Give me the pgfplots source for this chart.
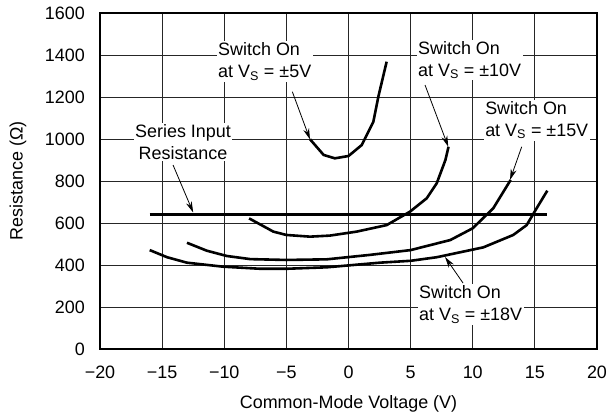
\documentclass[border=0pt]{standalone}
\usepackage{pgfplots}
\pgfplotsset{compat=1.18}
\usepackage{fontspec}
\setmainfont{Liberation Sans}
\usetikzlibrary{arrows.meta}
\begin{document}
\fontsize{18}{22}\selectfont
\begin{tikzpicture}
\begin{axis}[
  at={(0,0)}, anchor=south west,
  scale only axis, width=497bp, height=336bp,
  xmin=-20, xmax=20, ymin=0, ymax=1600,
  xtick={-20,-15,-10,-5,0,5,10,15,20},
  xticklabels={−20,−15,−10,−5,0,5,10,15,20},
  ytick={0,200,400,600,800,1000,1200,1400,1600},
  /pgf/number format/assume math mode=true,
  /pgf/number format/1000 sep={},
  major tick length=0pt,
  grid=major,
  major grid style={black!85, line width=0.8bp},
  axis line style={line width=2bp},
  tick label style={font=\fontsize{18}{22}\selectfont},
  yticklabel style={xshift=-9bp},
  xticklabel style={yshift=-11bp},
  xlabel={Common-Mode Voltage (V)},
  ylabel={Resistance (Ω)},
  label style={font=\fontsize{18}{22}\selectfont},
  xlabel style={at={(axis description cs:0.5,-0.164)}, anchor=center},
  ylabel style={at={(axis description cs:-0.165,0.5)}, anchor=center, rotate=0},
  clip=false,
]
% Series input resistance
\addplot[black, line width=2.6bp] coordinates {(-16,640) (16,640)};
% +-18 V
\addplot[black, line width=2.6bp] coordinates {
(-16,471) (-14.6,437) (-13.0,411) (-10.1,392) (-7.1,382) (-5.0,382) (-1.75,389)
(2.5,411) (5.0,420) (7.1,437) (10.85,484) (13.26,543) (14.34,590) (15.14,670) (16.0,754)};
% +-15 V
\addplot[black, line width=2.6bp] coordinates {
(-13.0,506) (-11.4,468) (-9.8,443) (-7.9,428) (-5.0,424) (-1.75,427) (1.7,448)
(5.0,471) (8.2,519) (10.0,575) (11.65,670) (13.05,805)};
% +-10 V
\addplot[black, line width=2.6bp] coordinates {
(-8.0,622) (-6.05,559) (-5.0,543) (-3.1,535) (-1.5,540) (0.66,559) (3.07,590)
(4.95,654) (6.3,718) (7.1,789) (7.8,900) (8.05,963)};
% +-5 V
\addplot[black, line width=2.6bp] coordinates {
(-3.1,999) (-2.0,924) (-1.1,908) (0.0,919) (1.06,971) (2.0,1082) (2.4,1201) (3.07,1368)};

% annotations
\tikzset{lbl/.style={fill=white, inner sep=1.5bp, align=center, font=\fontsize{18}{22}\selectfont},
         sw/.style={lbl, align=left, anchor=west},
         arr/.style={-{Stealth[length=11bp, width=6bp]}, line width=0.8bp}}
\node[sw] at (axis cs:-10.62,1367) {Switch On\\at V\textsubscript{S} = ±5V};
\draw[arr] (axis cs:-4.52,1225) -- (axis cs:-3.1,998);
\node[sw] at (axis cs:5.47,1376) {Switch On\\at V\textsubscript{S} = ±10V};
\draw[arr] (axis cs:6.16,1257) -- (axis cs:8.03,963);
\node[sw] at (axis cs:10.87,1090) {Switch On\\at V\textsubscript{S} = ±15V};
\draw[arr] (axis cs:13.94,963) -- (axis cs:13.0,805);
\node[lbl] at (axis cs:-13.32,986) {Series Input\\Resistance};
\draw[arr] (axis cs:-14.12,876) -- (axis cs:-12.5,650);
\node[sw] at (axis cs:5.55,210) {Switch On\\at V\textsubscript{S} = ±18V};
\draw[arr] (axis cs:9.22,314) -- (axis cs:7.77,438);
\end{axis}
\pgfresetboundingbox
\path[use as bounding box] (-100bp,-67bp) rectangle (507bp,349bp);
\end{tikzpicture}
\end{document}
